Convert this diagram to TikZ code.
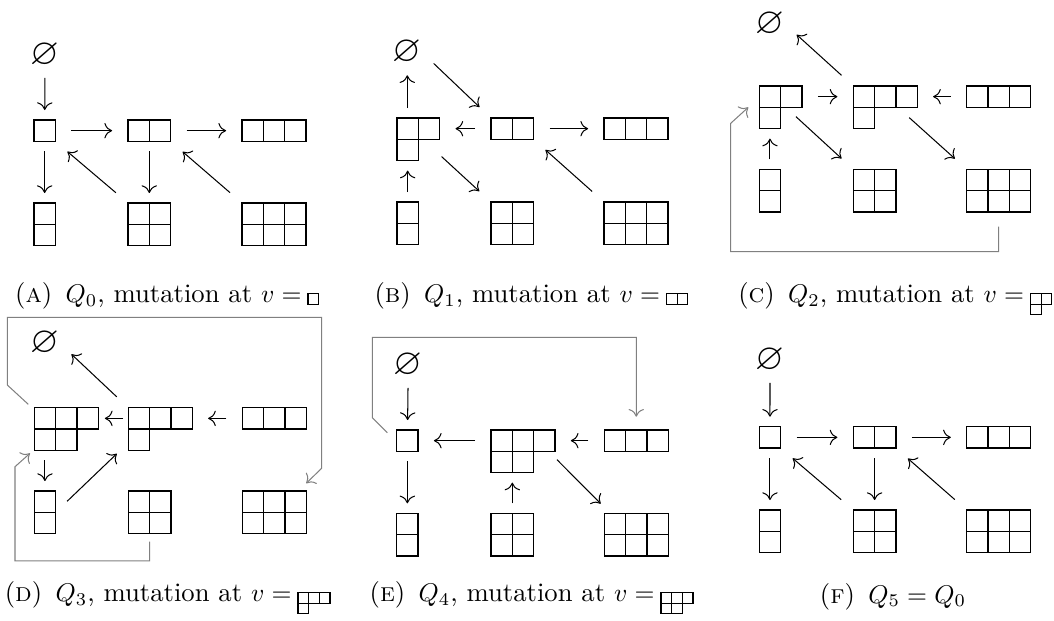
\documentclass[tikz,border=0pt]{standalone}
\usepackage{amssymb}
\usetikzlibrary{arrows.meta}

\tikzset{
  cell/.style={line width=0.5pt},
  ydbox/.style={inner sep=0pt, outer sep=0pt, anchor=north west},
  emptyv/.style={inner sep=0pt, font=\Large},
  arr/.style={->, shorten <=6.2pt, shorten >=6.2pt},
  varr/.style={->, shorten <=3.9pt, shorten >=3.9pt},
  route/.style={->, gray},
  capt/.style={anchor=base east, inner sep=0pt, font=\fontsize{10.4pt}{12.5pt}\selectfont},
}

% Young diagram: [cell] name, top left x, y, width, height, row lengths
\newcommand{\yd}[7][21.3]{%
  \node[ydbox, minimum width=#5*#1*0.39pt, minimum height=#6*#1*0.39pt] (#2) at (#3,#4) {};
  \coordinate (#2r) at (#3+#5*#1/2, #4+#1/2);
  \foreach \len [count=\ry] in {#7}
    \foreach \cx in {1,...,\len}
      \draw[cell] (#3+\cx*#1-#1, #4+\ry*#1-#1) rectangle ++(#1,#1);
}

\begin{document}
\begin{tikzpicture}[x=0.39pt, y=-0.39pt, >={Computer Modern Rightarrow[length=3pt, width=6pt]}]
  \useasboundingbox (0,0) rectangle (1054,620);

  % (a) Q_0
  \node[emptyv] (a0) at (45,55) {$\varnothing$};
  \yd{a1}{34}{120}{1}{1}{1}
  \yd{a2}{128}{120}{2}{1}{2}
  \yd{a3}{242}{120}{3}{1}{3}
  \yd{a11}{34}{203}{1}{2}{1,1}
  \yd{a22}{128}{203}{2}{2}{2,2}
  \yd{a33}{242}{203}{3}{2}{3,3}
  \draw[varr] (a0) -- (a1);
  \draw[arr] (a1) -- (a2);
  \draw[arr] (a2) -- (a3);
  \draw[varr] (a1) -- (a11);
  \draw[varr] (a2) -- (a22);
  \draw[arr] (a22.north west) -- (a1.south east);
  \draw[arr] (a33.north west) -- (a2.south east);
  \node[capt] (capA) at (302,302.5) {(\textsc{a})\enspace $Q_0$, mutation at $v =$};
  \yd[10.65]{vA}{308}{293.5}{1}{1}{1}

  % (b) Q_1
  \node[emptyv] (b0) at (407.3,52.5) {$\varnothing$};
  \yd{bh}{397}{118}{2}{2}{2,1}
  \yd{b2}{491}{118}{2}{1}{2}
  \yd{b3}{604}{118}{3}{1}{3}
  \yd{b11}{397}{202}{1}{2}{1,1}
  \yd{b22}{491}{202}{2}{2}{2,2}
  \yd{b33}{604}{202}{3}{2}{3,3}
  \draw[varr] (bh.north -| b0) -- (b0);
  \draw[arr] (b0.east) -- (b2.north west);
  \draw[arr] (b2) -- (b2 -| bh.east);
  \draw[arr] (b2) -- (b3);
  \draw[varr] (b11) -- (b11 |- bh.south);
  \draw[arr, shorten <=0pt] ([shift={(2,-4)}]bh.south east) -- (b22.north west);
  \draw[arr] (b33.north west) -- (b2.south east);
  \node[capt] (capB) at (660.5,302.5) {(\textsc{b})\enspace $Q_1$, mutation at $v =$};
  \yd[10.65]{vB}{666.5}{293.5}{2}{1}{2}

  % (c) Q_2
  \node[emptyv] (c0) at (770,24) {$\varnothing$};
  \yd{ch}{759.3}{86}{2}{2}{2,1}
  \yd{ck}{853.3}{86}{3}{2}{3,1}
  \yd{c3}{966.7}{86}{3}{1}{3}
  \yd{c11}{759.3}{169.3}{1}{2}{1,1}
  \yd{c22}{853.3}{169.3}{2}{2}{2,2}
  \yd{c33}{966.7}{169.3}{3}{2}{3,3}
  \draw[arr] (ck.north west) -- (c0.east);
  \draw[arr] (ch.east |- chr) -- (ck.west |- chr);
  \draw[arr] (c3) -- (c3 -| ck.east);
  \draw[varr] (c11) -- (c11 |- ch.south);
  \draw[arr, shorten <=0pt] ([shift={(-6,-12)}]ch.south east) -- (c22.north west);
  \draw[arr, shorten <=0pt] ([shift={(-8,-11)}]ck.south east) -- (c33.north west);
  \draw[route] ([shift={(0,14.7)}]c33.south) -- ++(0,25) -| ([shift={(-28.6,16)}]ch.west) -- ([shift={(-11,0)}]ch.west);
  \node[capt] (capC) at (1024.5,302.5) {(\textsc{c})\enspace $Q_2$, mutation at $v =$};
  \yd[10.65]{vC}{1030.5}{293.5}{2}{2}{2,1}

  % (d) Q_3
  \node[emptyv] (d0) at (45,343.3) {$\varnothing$};
  \yd{d32}{34.3}{407.7}{3}{2}{3,2}
  \yd{d31}{128.3}{407.7}{3}{2}{3,1}
  \yd{d3}{242.3}{407.7}{3}{1}{3}
  \yd{d11}{34.3}{491}{1}{2}{1,1}
  \yd{d22}{128.3}{491}{2}{2}{2,2}
  \yd{d33}{242.3}{491}{3}{2}{3,3}
  \draw[arr] (d31.north west) -- (d0.east);
  \draw[arr, shorten <=2pt, shorten >=2.6pt] (d31.west |- d31r) -- (d32.east |- d31r);
  \draw[arr] (d3) -- (d3 -| d31.east);
  \draw[varr] (d11 |- d32.south) -- (d11);
  \draw[arr] (d11.east) -- ([shift={(0,-7.6)}]d31.south west);
  \draw[route] ([shift={(0,8)}]d22.south) -- ++(0,19.3) -| ([shift={(-19.3,16.4)}]d32.south west) -- ([shift={(-4.3,3)}]d32.south west);
  \draw[route] ([shift={(-6,-3.4)}]d32.north west) -- ++(-21,-19.3) -- ++(0,-67.7) -| ([shift={(15.4,-22.7)}]d33.north east) -- ([shift={(0,-7.7)}]d33.north east);
  \node[capt] (capD) at (292,601.5) {(\textsc{d})\enspace $Q_3$, mutation at $v =$};
  \yd[10.65]{vD}{298}{592.5}{3}{2}{3,1}

  % (e) Q_4
  \node[emptyv] (e0) at (408.3,365) {$\varnothing$};
  \yd{e1}{396.7}{430}{1}{1}{1}
  \yd{e32}{491}{430}{3}{2}{3,2}
  \yd{e3}{604.3}{430}{3}{1}{3}
  \yd{e11}{396.7}{513.3}{1}{2}{1,1}
  \yd{e22}{491}{513.3}{2}{2}{2,2}
  \yd{e33}{604.3}{513.3}{3}{2}{3,3}
  \draw[varr] (e0) -- (e1);
  \draw[arr] (e1 -| e32.west) -- (e1);
  \draw[arr] (e3) -- (e3 -| e32.east);
  \draw[varr] (e1) -- (e11);
  \draw[varr] (e22) -- (e22 |- e32.south);
  \draw[arr, shorten <=0pt, shorten >=2pt] ([shift={(2,-13)}]e32.south east) -- ([shift={(0,-6)}]e33.north west);
  \draw[route] ([shift={(-9.4,2.7)}]e1.north west) -- ++(-15,-15) -- ++(0,-80.4) -| ([shift={(0,-13.3)}]e3.north);
  \node[capt] (capE) at (655,601.5) {(\textsc{e})\enspace $Q_4$, mutation at $v =$};
  \yd[10.65]{vE}{661}{592.5}{3}{2}{3,2}

  % (f) Q_5 = Q_0
  \node[emptyv] (f0) at (770,360) {$\varnothing$};
  \yd{f1}{759.3}{426.7}{1}{1}{1}
  \yd{f2}{853.3}{426.7}{2}{1}{2}
  \yd{f3}{966.7}{426.7}{3}{1}{3}
  \yd{f11}{759.3}{510}{1}{2}{1,1}
  \yd{f22}{853.3}{510}{2}{2}{2,2}
  \yd{f33}{966.7}{510}{3}{2}{3,3}
  \draw[varr] (f0) -- (f1);
  \draw[arr] (f1) -- (f2);
  \draw[arr] (f2) -- (f3);
  \draw[varr] (f1) -- (f11);
  \draw[varr] (f2) -- (f22);
  \draw[arr] (f22.north west) -- (f1.south east);
  \draw[arr] (f33.north west) -- (f2.south east);
  \node[anchor=base, inner sep=0pt, font=\fontsize{10.4pt}{12.5pt}\selectfont] (capF) at (893,603) {(\textsc{f})\enspace $Q_5 = Q_0$};
\end{tikzpicture}
\end{document}
